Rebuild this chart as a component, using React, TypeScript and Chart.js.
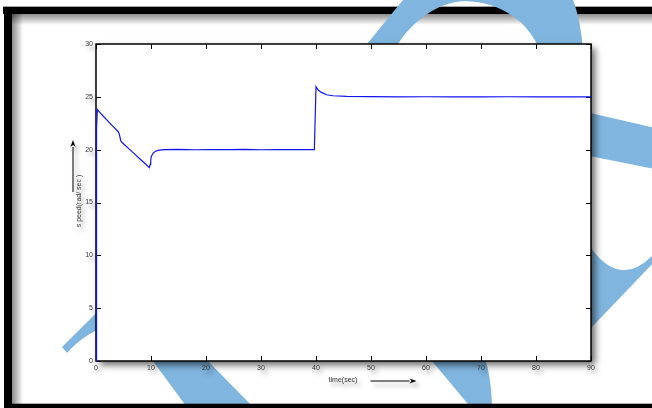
import { useEffect, useRef } from "react";
import { Chart, registerables } from "chart.js";

Chart.register(...registerables);

// Rotor speed response (rad/sec) against time (sec)
const timeSec = [
  0, 0.1, 0.25, 1, 2, 3, 4.05, 4.25, 4.5, 4.7, 6, 7, 8, 9, 9.7, 9.85, 9.95,
  10.05, 10.4, 10.8, 11.5, 12.5, 15, 18, 21, 24, 27, 30, 33, 36, 39.7, 40.0,
  40.4, 41.0, 41.9, 43.1, 45.6, 50, 55, 60, 65, 70, 75, 80, 85, 90,
];
const speedRadS = [
  0, 22.0, 23.8, 23.35, 22.8, 22.25, 21.7, 21.45, 20.85, 20.7, 20.08, 19.6,
  19.12, 18.64, 18.3, 18.6, 18.95, 19.35, 19.68, 19.85, 19.95, 20.0, 20.02,
  19.99, 20.01, 20.0, 20.02, 19.99, 20.01, 20.0, 20.0, 25.96, 25.64, 25.42,
  25.2, 25.1, 25.05, 25.02, 25.0, 25.01, 24.99, 25.0, 25.01, 24.99, 25.0, 25.0,
];

const xTicks = [0, 10, 20, 30, 40, 50, 60, 70, 80, 90];
const yTicks = [0, 5, 10, 15, 20, 25, 30];

const xTitle = "time(sec)";
const yTitle = "s peed(rad/ sec )";

const W = 652;
const H = 408;
const WATERMARK = "#7fb5de";
const FONT = "'Liberation Sans', Arial, sans-serif";

function textShadow(ctx: CanvasRenderingContext2D) {
  ctx.shadowColor = "rgba(0,0,0,0.38)";
  ctx.shadowBlur = 4;
  ctx.shadowOffsetX = 3;
  ctx.shadowOffsetY = 4;
}

function noShadow(ctx: CanvasRenderingContext2D) {
  ctx.shadowColor = "rgba(0,0,0,0)";
  ctx.shadowBlur = 0;
  ctx.shadowOffsetX = 0;
  ctx.shadowOffsetY = 0;
}

function drawWatermark(ctx: CanvasRenderingContext2D) {
  ctx.fillStyle = WATERMARK;

  // big arc over the top that sweeps down into the long diagonal stroke
  ctx.beginPath();
  ctx.moveTo(62, 347);
  ctx.lineTo(367, 44);
  ctx.lineTo(403, 0);
  ctx.lineTo(418, -20);
  ctx.lineTo(568, -20);
  ctx.lineTo(573, 0);
  ctx.quadraticCurveTo(581, 20, 584, 60);
  ctx.lineTo(540, 70);
  ctx.lineTo(537, 44);
  ctx.bezierCurveTo(525, 20, 500, 2, 465, 1);
  ctx.bezierCurveTo(435, 2, 410, 25, 398, 44);
  ctx.lineTo(120, 320);
  ctx.quadraticCurveTo(85, 332, 67, 353);
  ctx.closePath();
  ctx.fill();

  // slanted stroke below the axis, left
  ctx.beginPath();
  ctx.moveTo(148.5, 355);
  ctx.lineTo(202, 355);
  ctx.lineTo(256, 410);
  ctx.lineTo(189, 410);
  ctx.closePath();
  ctx.fill();

  // slanted stroke below the axis, right
  ctx.beginPath();
  ctx.moveTo(427, 355);
  ctx.lineTo(484, 355);
  ctx.quadraticCurveTo(491, 375, 492, 404);
  ctx.lineTo(493, 410);
  ctx.lineTo(473, 410);
  ctx.closePath();
  ctx.fill();

  // band leaving the right side
  ctx.beginPath();
  ctx.moveTo(560, 106);
  ctx.lineTo(660, 129);
  ctx.lineTo(660, 170);
  ctx.lineTo(560, 150);
  ctx.closePath();
  ctx.fill();

  // curved wedge at the lower right
  ctx.beginPath();
  ctx.moveTo(580, 244);
  ctx.lineTo(591, 248);
  ctx.quadraticCurveTo(620, 288, 652, 256);
  ctx.lineTo(660, 254);
  ctx.lineTo(660, 256);
  ctx.lineTo(591, 328);
  ctx.lineTo(580, 340);
  ctx.closePath();
  ctx.fill();
}

function drawFrame(ctx: CanvasRenderingContext2D) {
  // thin grey rule above the top band
  ctx.fillStyle = "rgba(0,0,0,0.35)";
  ctx.fillRect(3, 6, W, 1);
  ctx.fillStyle = "#000";
  ctx.fillRect(3, 7, W, 7);
  ctx.fillRect(4, 7, 8, H);

  // inner shade along the top and left bands
  let g = ctx.createLinearGradient(0, 14, 0, 25);
  g.addColorStop(0, "rgba(0,0,0,0.45)");
  g.addColorStop(1, "rgba(0,0,0,0)");
  ctx.fillStyle = g;
  ctx.fillRect(12, 14, W, 11);
  g = ctx.createLinearGradient(12, 0, 23, 0);
  g.addColorStop(0, "rgba(0,0,0,0.45)");
  g.addColorStop(1, "rgba(0,0,0,0)");
  ctx.fillStyle = g;
  ctx.fillRect(12, 14, 11, H);
}

function drawArrow(
  ctx: CanvasRenderingContext2D,
  x1: number,
  y1: number,
  x2: number,
  y2: number
) {
  const ang = Math.atan2(y2 - y1, x2 - x1);
  const head = 7;
  const half = 2.6;
  const bx = x2 - head * Math.cos(ang);
  const by = y2 - head * Math.sin(ang);
  ctx.strokeStyle = "#000";
  ctx.fillStyle = "#000";
  ctx.lineWidth = 1;
  ctx.beginPath();
  ctx.moveTo(x1, y1);
  ctx.lineTo(bx, by);
  ctx.stroke();
  ctx.beginPath();
  ctx.moveTo(x2, y2);
  ctx.lineTo(bx - half * Math.sin(ang), by + half * Math.cos(ang));
  ctx.lineTo(bx + 2 * Math.cos(ang), by + 2 * Math.sin(ang));
  ctx.lineTo(bx + half * Math.sin(ang), by - half * Math.cos(ang));
  ctx.closePath();
  ctx.fill();
}

const decorPlugin = {
  id: "decor",
  beforeDraw(chart: Chart) {
    const { ctx, chartArea: a } = chart;
    ctx.save();
    noShadow(ctx);
    ctx.fillStyle = "#fff";
    ctx.fillRect(0, 0, W, H);
    drawFrame(ctx);
    drawWatermark(ctx);
    ctx.fillStyle = "#000";
    ctx.fillRect(4, 404, W, 4);
    ctx.fillStyle = "rgba(0,0,0,0.3)";
    ctx.fillRect(12, 403, W, 1);

    // white plotting box with its drop shadow
    ctx.shadowColor = "rgba(0,0,0,0.6)";
    ctx.shadowBlur = 7;
    ctx.shadowOffsetX = 4;
    ctx.shadowOffsetY = 4;
    ctx.fillStyle = "#fff";
    ctx.fillRect(a.left, a.top, a.right - a.left, a.bottom - a.top);
    ctx.restore();

    // tick labels drawn by the scales pick up this shadow
    textShadow(ctx);
  },
  beforeDatasetsDraw(chart: Chart) {
    const { ctx, chartArea: a } = chart;
    noShadow(ctx);
    ctx.save();
    ctx.strokeStyle = "#000";
    ctx.lineWidth = 1.5;
    ctx.strokeRect(a.left, a.top, a.right - a.left, a.bottom - a.top);

    // inward tick marks on all four sides
    ctx.lineWidth = 1;
    const tl = 5;
    const xs = chart.scales.x;
    const ys = chart.scales.y;
    ctx.beginPath();
    for (const t of xs.ticks) {
      const px = Math.round(xs.getPixelForValue(t.value)) + 0.5;
      ctx.moveTo(px, a.bottom);
      ctx.lineTo(px, a.bottom - tl);
      ctx.moveTo(px, a.top);
      ctx.lineTo(px, a.top + tl);
    }
    for (const t of ys.ticks) {
      const py = Math.round(ys.getPixelForValue(t.value)) + 0.5;
      ctx.moveTo(a.left, py);
      ctx.lineTo(a.left + tl, py);
      ctx.moveTo(a.right, py);
      ctx.lineTo(a.right - tl, py);
    }
    ctx.stroke();
    ctx.restore();
  },
  afterDraw(chart: Chart) {
    const { ctx, chartArea: a } = chart;
    ctx.save();
    textShadow(ctx);
    ctx.fillStyle = "#333";
    ctx.font = `7px ${FONT}`;
    ctx.textAlign = "center";
    ctx.textBaseline = "middle";
    const midX = (a.left + a.right) / 2;
    ctx.fillText(xTitle, midX - 0.5, a.bottom + 19);
    ctx.save();
    ctx.translate(a.left - 17, a.top + 157);
    ctx.rotate(-Math.PI / 2);
    ctx.fillText(yTitle, 0, 0);
    ctx.restore();

    drawArrow(ctx, midX + 27, a.bottom + 20, midX + 73, a.bottom + 20);
    drawArrow(ctx, a.left - 23, a.top + 148, a.left - 23, a.top + 96);
    ctx.restore();
    noShadow(ctx);
  },
};

export default function App() {
  const canvasRef = useRef<HTMLCanvasElement | null>(null);

  useEffect(() => {
    const canvas = canvasRef.current;
    if (!canvas) return;
    const tickFont = { family: FONT, size: 7 };
    const chart = new Chart(canvas, {
      type: "line",
      data: {
        datasets: [
          {
            data: timeSec.map((t, i) => ({ x: t, y: speedRadS[i] })),
            borderColor: "rgb(18,18,238)",
            borderWidth: 1.2,
            pointRadius: 0,
            tension: 0,
            clip: 4,
          },
        ],
      },
      options: {
        responsive: false,
        animation: false,
        events: [],
        devicePixelRatio: 1,
        layout: { padding: { top: 44, right: 61, left: 0, bottom: 0 } },
        plugins: {
          legend: { display: false },
          tooltip: { enabled: false },
        },
        scales: {
          x: {
            type: "linear",
            min: 0,
            max: 90,
            grid: { display: false, drawTicks: false },
            border: { display: false },
            afterBuildTicks: (s: any) => {
              s.ticks = xTicks.map((v) => ({ value: v }));
            },
            afterFit: (s: any) => {
              s.height = 47;
            },
            ticks: {
              padding: 3,
              font: tickFont,
              color: "#333",
              maxRotation: 0,
              autoSkip: false,
            },
          },
          y: {
            type: "linear",
            min: 0,
            max: 30,
            grid: { display: false, drawTicks: false },
            border: { display: false },
            afterBuildTicks: (s: any) => {
              s.ticks = yTicks.map((v) => ({ value: v }));
            },
            afterFit: (s: any) => {
              s.width = 96;
            },
            ticks: {
              padding: 3,
              font: tickFont,
              color: "#333",
              autoSkip: false,
            },
          },
        },
      },
      plugins: [decorPlugin as any],
    });
    return () => chart.destroy();
  }, []);

  return (
    <div style={{ position: "fixed", left: 0, top: 0, width: W, height: H }}>
      <canvas ref={canvasRef} width={W} height={H} style={{ display: "block" }} />
    </div>
  );
}
